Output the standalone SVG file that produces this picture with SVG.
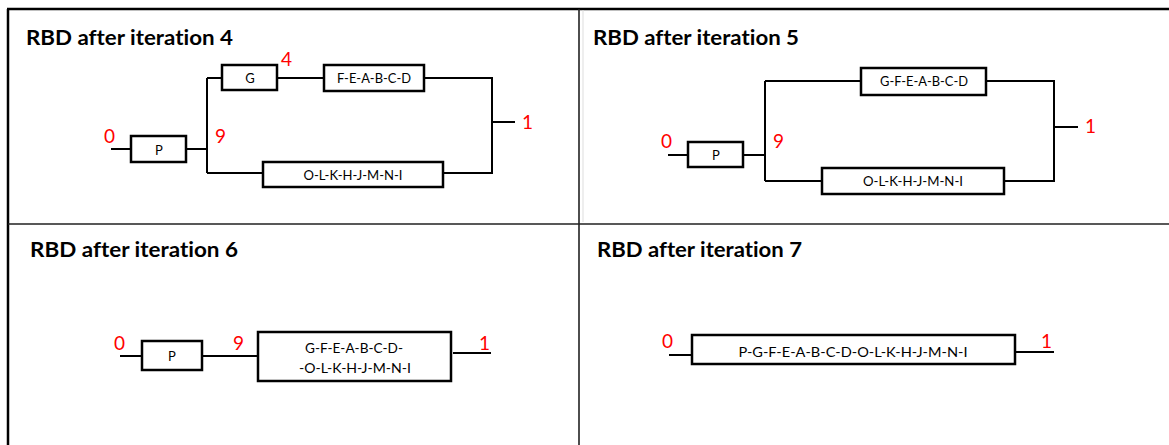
<svg xmlns="http://www.w3.org/2000/svg" width="1169" height="445" viewBox="0 0 1169 445">
<style>
.frame{stroke:#000;stroke-width:2.5;fill:none}
.div{stroke:#222;stroke-width:1.6;fill:none}
.box{fill:#fff;stroke:#000;stroke-width:2.5}
.wire{stroke:#000;stroke-width:2;fill:none}
text{font-variant-ligatures:none}
.title{font-family:Lato,'Liberation Sans',sans-serif;font-weight:bold;font-size:21px;fill:#000}
.lbl{font-family:Lato,'Liberation Sans',sans-serif;font-size:13px;fill:#000;text-anchor:middle;dominant-baseline:central}
.num{font-family:Lato,'Liberation Sans',sans-serif;font-size:19px;fill:#f00}
</style>
<rect x="0" y="0" width="1169" height="445" fill="#fff"/>
<g id="frame">
<path class="frame" d="M7,9H1169M8,9V445"/>
<path class="div" d="M8,224H1169M579,9V445"/>
<path d="M583,10V222" stroke="#ddd" stroke-width="1"/>
</g>
<g id="titles">
<text class="title" x="26" y="45" textLength="207" lengthAdjust="spacingAndGlyphs">RBD after iteration 4</text>
<text class="title" x="593" y="45" textLength="206" lengthAdjust="spacingAndGlyphs">RBD after iteration 5</text>
<text class="title" x="30" y="257" textLength="208" lengthAdjust="spacingAndGlyphs">RBD after iteration 6</text>
<text class="title" x="597" y="257" textLength="205" lengthAdjust="spacingAndGlyphs">RBD after iteration 7</text>
</g>
<g id="connectors">
<path class="wire" d="M111,149H131M186,149H207M207,78V173M207,78H222M207,173H263M277,78H324M424,78H492V173H443M492,122H515"/>
<path class="wire" d="M668,155H688M743,155H765M765,81V181M765,81H861M765,181H822M986,81H1054V181H1004M1054,127H1078"/>
<path class="wire" d="M120,356H142M202,356H258M453,353H491"/>
<path class="wire" d="M669,355H692M1015,352H1054"/>
</g>
<g id="p1-P"><rect class="box" x="131" y="136" width="55" height="26"/><text class="lbl" x="159" y="150">P</text></g>
<g id="p1-G"><rect class="box" x="222" y="65" width="55" height="25"/><text class="lbl" x="250" y="78">G</text></g>
<g id="p1-FEABCD"><rect class="box" x="324" y="65" width="100" height="26"/><text class="lbl" x="374" y="78" textLength="74" lengthAdjust="spacingAndGlyphs">F-E-A-B-C-D</text></g>
<g id="p1-OLKHJMNI"><rect class="box" x="263" y="162" width="180" height="25"/><text class="lbl" x="353" y="175" textLength="99" lengthAdjust="spacingAndGlyphs">O-L-K-H-J-M-N-I</text></g>
<g id="p1-nums">
<text class="num" x="104" y="143">0</text>
<text class="num" x="215" y="143">9</text>
<text class="num" x="281" y="66">4</text>
<text class="num" x="522" y="129">1</text>
</g>
<g id="p2-P"><rect class="box" x="688" y="142" width="55" height="25"/><text class="lbl" x="716" y="155">P</text></g>
<g id="p2-GFEABCD"><rect class="box" x="861" y="68" width="125" height="27"/><text class="lbl" x="924" y="81" textLength="88" lengthAdjust="spacingAndGlyphs">G-F-E-A-B-C-D</text></g>
<g id="p2-OLKHJMNI"><rect class="box" x="822" y="168" width="182" height="26"/><text class="lbl" x="913" y="181" textLength="100" lengthAdjust="spacingAndGlyphs">O-L-K-H-J-M-N-I</text></g>
<g id="p2-nums">
<text class="num" x="661" y="148">0</text>
<text class="num" x="773" y="148">9</text>
<text class="num" x="1085" y="133">1</text>
</g>
<g id="p3-P"><rect class="box" x="142" y="341" width="60" height="29"/><text class="lbl" x="172" y="356">P</text></g>
<g id="p3-merged"><rect class="box" x="258" y="332" width="193" height="49"/>
<text class="lbl" x="354" y="347" textLength="98" lengthAdjust="spacingAndGlyphs" style="font-size:14px">G-F-E-A-B-C-D-</text>
<text class="lbl" x="355" y="367" textLength="112" lengthAdjust="spacingAndGlyphs" style="font-size:14px">-O-L-K-H-J-M-N-I</text></g>
<g id="p3-nums">
<text class="num" x="114" y="350">0</text>
<text class="num" x="233" y="350">9</text>
<text class="num" x="479" y="350">1</text>
</g>
<g id="p4-all"><rect class="box" x="692" y="335" width="323" height="29"/><text class="lbl" x="853" y="351" textLength="229" lengthAdjust="spacingAndGlyphs" style="font-size:14px">P-G-F-E-A-B-C-D-O-L-K-H-J-M-N-I</text></g>
<g id="p4-nums">
<text class="num" x="662" y="348">0</text>
<text class="num" x="1041" y="348">1</text>
</g>
</svg>
